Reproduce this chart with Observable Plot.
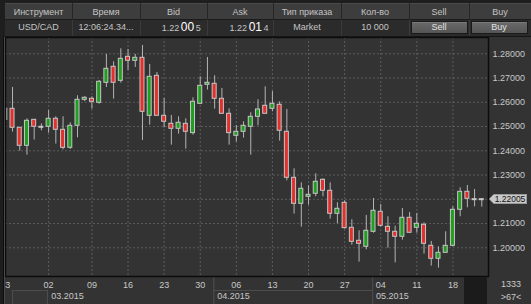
<!DOCTYPE html>
<html><head><meta charset="utf-8">
<script src="https://cdn.jsdelivr.net/npm/d3@7"></script>
<script src="https://cdn.jsdelivr.net/npm/@observablehq/plot@0.6"></script>
<style>
html,body{margin:0;padding:0;background:#1e1e1e;}
#wrap{position:relative;width:531px;height:304px;overflow:hidden;font-family:"Liberation Sans",Arial,sans-serif;color:#c8c8c8;font-size:9px;}
.a{position:absolute;box-sizing:border-box;white-space:nowrap;}
#chart{position:absolute;left:0;top:37px;}
</style></head><body><div id="wrap"></div>
<script>
// ---- data ----
const openP  = [1.25278,1.25732,1.24948,1.24206,1.25278,1.2499,1.2499,1.2532,1.24866,1.24124,1.25031,1.26103,1.26144,1.25979,1.26804,1.27464,1.26887,1.27876,1.27711,1.27835,1.25443,1.27093,1.25443,1.25113,1.24907,1.25113,1.24729,1.25938,1.26722,1.26763,1.26144,1.25526,1.24619,1.24784,1.2499,1.25402,1.25856,1.25732,1.25897,1.24784,1.22887,1.21814,1.22103,1.22227,1.22804,1.2235,1.21402,1.21856,1.20825,1.20289,1.20041,1.2066,1.21485,1.20866,1.2066,1.20454,1.21237,1.20825,1.20948,1.20082,1.19546,1.19794,1.20082,1.21567,1.22309,1.22005,1.22005];
const highP  = [1.25814,1.26612,1.24948,1.2532,1.25278,1.25113,1.25663,1.25402,1.25402,1.25155,1.26268,1.26227,1.26227,1.269,1.27973,1.2767,1.28206,1.28179,1.27973,1.28344,1.2756,1.2723,1.26158,1.25457,1.25402,1.2532,1.26186,1.27052,1.27849,1.27093,1.2657,1.25732,1.25045,1.25196,1.25567,1.26103,1.26639,1.26447,1.26021,1.25704,1.23258,1.2268,1.22557,1.23052,1.22845,1.2268,1.21856,1.21938,1.21155,1.20701,1.21333,1.22034,1.21787,1.21278,1.20893,1.21622,1.21457,1.21416,1.21031,1.20261,1.20041,1.2066,1.21691,1.22474,1.2257,1.22405,1.22021];
const lowP   = [1.25196,1.2477,1.23986,1.23821,1.2444,1.24825,1.24729,1.24275,1.24041,1.24055,1.24536,1.26021,1.25718,1.25924,1.26612,1.26131,1.2679,1.27313,1.27436,1.24426,1.25058,1.25443,1.24948,1.24234,1.24687,1.24069,1.24646,1.25938,1.26502,1.25718,1.25526,1.24234,1.24357,1.24522,1.23821,1.25031,1.25526,1.25608,1.24399,1.22763,1.21388,1.20852,1.21759,1.22103,1.22103,1.21182,1.2099,1.2077,1.2011,1.19409,1.19918,1.20605,1.20852,1.19986,1.19381,1.20316,1.20619,1.20605,1.19739,1.19244,1.19162,1.19794,1.20041,1.21278,1.2165,1.21691,1.21677];
const closeP = [1.25732,1.24948,1.24206,1.25237,1.2499,1.2499,1.2532,1.24866,1.24124,1.25031,1.26103,1.26186,1.26021,1.26845,1.27381,1.26804,1.27794,1.27711,1.27835,1.25608,1.27052,1.25443,1.25196,1.24907,1.25155,1.24784,1.26021,1.2668,1.26804,1.26144,1.25526,1.24729,1.24784,1.25031,1.25402,1.25704,1.25526,1.25938,1.24825,1.22887,1.21814,1.22433,1.22186,1.22722,1.2235,1.21402,1.21608,1.20811,1.20247,1.20165,1.20701,1.21526,1.20907,1.2066,1.20454,1.21237,1.20619,1.2099,1.20165,1.19546,1.19794,1.20082,1.21567,1.22309,1.22021,1.22005,1.22005];
const dayTickIndex  = [0,6,12,17,22,27,32,37,42,47,52,57,62];
const dayTickLabels = ["23","02","09","16","23","30","06","13","20","27","04","11","18"];
const monthLabels = ["03.2015","04.2015","05.2015"];
const monthStartIndex = [6,29,51];
const priceTicks = [1.20,1.21,1.22,1.23,1.24,1.25,1.26,1.27,1.28];
const lastPrice = 1.22005;
const headerLabels = ["Инструмент","Время","Bid","Ask","Тип приказа","Кол-во","Sell","Buy"];
const instrument = "USD/CAD";
const timeText = "12:06:24.34...";
const bidParts = ["1.22","00","5"];
const askParts = ["1.22","01","4"];
const orderType = "Market";
const quantity = "10 000";
const barsCount = "1333";
const visibleBars = ">67<";

// ---- build ----
const wrap = document.getElementById("wrap");
function el(css, html, parent) {
  const d = document.createElement("div");
  d.className = "a"; d.style.cssText = css;
  if (html != null) d.textContent = html;
  (parent || wrap).appendChild(d); return d;
}
function elh(css, html) { const d = el(css); d.innerHTML = html; return d; }
const colEdges = [5,72,140,207,273,341,409,469,531];
// header rows
el("left:5px;top:3px;width:526px;height:17px;background:#3d3d3d;border-top:1px solid #4a4a4a;");
el("left:5px;top:20px;width:526px;height:16px;background:#2b2b2b;");
el("left:5px;top:19px;width:526px;height:1px;background:#1c1c1c;");
el("left:5px;top:36px;width:526px;height:1px;background:#161616;");
for (let k = 1; k < colEdges.length - 1; k++) {
  el(`left:${colEdges[k]}px;top:3px;width:1px;height:17px;background:#262626;`);
  el(`left:${colEdges[k]}px;top:20px;width:1px;height:16px;background:#3a3a3a;`);
}
headerLabels.forEach((t, k) => {
  el(`left:${colEdges[k]}px;top:5px;width:${colEdges[k+1]-colEdges[k]}px;height:14px;line-height:14px;text-align:center;color:#c4c4c4;`, t);
});
const row2 = (k, html, align, pad) => elh(`left:${colEdges[k]}px;top:21px;width:${colEdges[k+1]-colEdges[k]}px;height:13px;line-height:13px;text-align:${align||"center"};${pad?`padding-right:${pad}px;`:""}color:#c4c4c4;`, html);
row2(0, instrument);
row2(1, timeText);
const bigq = p => `${p[0]}<span style="font-size:12px;color:#fff;margin:0 1.5px 0 1.5px">${p[1]}</span>${p[2]}`;
row2(2, bigq(bidParts), "right", 6.3);
row2(3, bigq(askParts), "right", 4.5);
row2(4, orderType);
row2(5, quantity);
const btn = (x, t) => el(`left:${x}px;top:21px;width:57px;height:13px;line-height:11px;text-align:center;color:#e2e2e2;background:linear-gradient(#6a6a6a,#555);border:1px solid #1a1a1a;box-shadow:inset 0 1px 0 #7a7a7a;`, t);
btn(410.5, headerLabels[6]);
btn(470.5, headerLabels[7]);

// ---- chart ----
const candles = openP.map((o, i) => ({i, o, h: highP[i], l: lowP[i], c: closeP[i]}));
const red = "#e2302c", green = "#1f9e1f";
const hw = 2 / 7.22, dw = 2.5 / 7.22;
const yDomain = [1.18816, 1.28672];
const pxPerUnit = 239 / (yDomain[1] - yDomain[0]);
// the tag over the last price hides the axis label beneath it
const labelTicks = priceTicks.filter(t => Math.abs(t - lastPrice) * pxPerUnit > 9);
const plot = Plot.plot({
  width: 531, height: 267,
  marginLeft: 5, marginRight: 43, marginTop: 0, marginBottom: 28,
  style: {background: "#333333", color: "#c8c8c8", fontFamily: "Liberation Sans, Arial, sans-serif", fontSize: "9px"},
  x: {type: "linear", domain: [0, 66], range: [4.8, 481.3], axis: null, label: null},
  y: {type: "linear", domain: yDomain, range: [239, 0], axis: null, label: null},
  marks: [
    Plot.ruleY(priceTicks, {stroke: "#5c5c5c", strokeDasharray: "2,2"}),
    Plot.ruleX(dayTickIndex.slice(1), {stroke: "#5c5c5c", strokeDasharray: "2,2"}),
    Plot.ruleX(candles, {x: "i", y1: "l", y2: "h", stroke: "#b4b4b4", strokeWidth: 1}),
    Plot.rect(candles.filter(d => d.o !== d.c), {
      x1: d => d.i - hw, x2: d => d.i + hw,
      y1: d => Math.min(d.o, d.c), y2: d => Math.max(d.o, d.c),
      fill: d => d.c > d.o ? green : red, stroke: "#c6c6c6", strokeWidth: 1
    }),
    Plot.ruleY(candles.filter(d => d.o === d.c), {y: "c", x1: d => d.i - dw, x2: d => d.i + dw, stroke: "#c8c8c8", strokeWidth: 2}),
    Plot.axisY(labelTicks, {anchor: "right", label: null, tickSize: 0, tickPadding: 4, tickFormat: d3.format(".5f"), fontSize: 9}),
    Plot.axisX(dayTickIndex, {anchor: "bottom", label: null, tickSize: 0, tickPadding: 5.5, tickFormat: d => dayTickLabels[dayTickIndex.indexOf(d)], fontSize: 9}),
    Plot.ruleX(monthStartIndex.slice(1), {x: d => d, dx: -0.8, insetTop: 239, insetBottom: -28, stroke: "#505050"}),
    Plot.text(monthLabels, {x: (d, k) => monthStartIndex[k], frameAnchor: "bottom", dy: 19.5, dx: 2.6, textAnchor: "start", lineAnchor: "middle", fontSize: 9, fill: "#c8c8c8"}),
    Plot.frame({stroke: "#0c0c0c", strokeWidth: 1.5})
  ]
});
plot.id = "chart";
wrap.appendChild(plot);

const xs = plot.scale("x"), ys = plot.scale("y");
// month row decorations
const xa = xs.apply(monthStartIndex[0]) - 0.8;
el(`left:11.7px;top:290px;width:${xa - 11.7 + 1}px;height:15px;border:1px solid #4c4c4c;background:#363636;`);
const xApr = xs.apply(monthStartIndex[1]) - 0.8, xMay = xs.apply(monthStartIndex[2]) - 0.8;
el(`left:${xApr}px;top:290px;width:${xMay - xApr}px;height:1px;background:#4c4c4c;`);
// scroll box
el("left:464px;top:277px;width:23px;height:27px;background:#1b1b1b;");
// left frame
el("left:0;top:0;width:3px;height:304px;background:#1e1e1e;");
el("left:3px;top:37px;width:1px;height:267px;background:#0c0c0c;");
el("left:4px;top:37px;width:1px;height:267px;background:#4a4a4a;");
el("left:3px;top:0;width:2px;height:37px;background:#1e1e1e;");
// bottom-right info
el("left:496px;top:279px;width:30px;height:10px;line-height:10px;text-align:center;", barsCount);
el("left:496px;top:292px;width:30px;height:10px;line-height:10px;text-align:center;", visibleBars);
// current price tag
const ty = 37 + ys.apply(lastPrice);
el(`left:489px;top:${ty - 5}px;width:0;height:0;border-top:5px solid transparent;border-bottom:5px solid transparent;border-right:5px solid #c8c8c8;`);
el(`left:494px;top:${ty - 5}px;width:33px;height:10px;line-height:9px;text-align:center;font-size:8.5px;background:#c8c8c8;color:#111;border:1px solid #9a9a9a;border-left:none;overflow:visible;`, d3.format(".5f")(lastPrice));
</script>
</body></html>
